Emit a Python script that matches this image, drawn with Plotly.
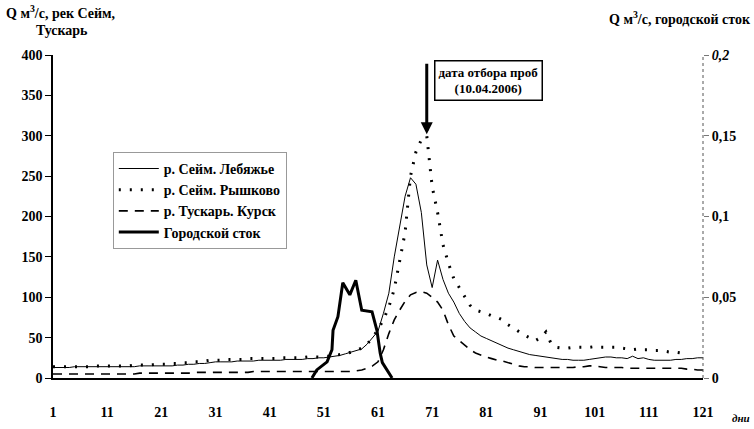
import plotly.graph_objects as go

days = list(range(1, 122))

# р. Сейм. Лебяжье (m3/s)
lebyazhye = [13, 13, 13, 13, 14, 14, 14, 14, 14, 14,
             14, 14, 14, 14, 14, 14, 15, 15, 15, 15,
             15, 15, 15, 16, 16, 17, 17, 18, 18, 19,
             20, 20, 20, 20, 21, 21, 21, 21, 22, 22,
             22, 22, 22, 23, 23, 23, 23, 24, 24, 25,
             25, 26, 27, 28, 30, 32, 34, 36, 42, 50,
             58, 80, 105, 150, 190, 225, 248, 240, 205, 140,
             112, 146, 122, 105, 94, 80, 70, 62, 57, 52,
             49, 46, 43, 40, 37, 35, 33, 31, 29, 28,
             27, 26, 25, 24, 23, 23, 22, 22, 22, 23,
             24, 25, 26, 26, 25, 25, 24, 27, 24, 25,
             23, 22, 22, 22, 22, 23, 23, 24, 24, 25, 25]

# р. Сейм. Рышково (m3/s)
ryshkovo = [14, 14, 14, 14, 14, 14, 14, 14, 15, 15,
            15, 15, 15, 15, 15, 16, 16, 16, 16, 17,
            17, 17, 18, 18, 19, 19, 20, 20, 21, 22,
            22, 22, 23, 23, 23, 23, 24, 24, 24, 24,
            24, 24, 25, 25, 25, 25, 25, 26, 26, 26,
            27, 27, 28, 29, 30, 32, 34, 37, 42, 50,
            60, 72, 88, 110, 145, 180, 250, 280, 295, 300,
            237, 205, 165, 142, 123, 112, 100, 90, 84, 82,
            80, 77, 75, 72, 66, 62, 57, 53, 50, 46,
            50, 57, 42, 38, 37, 37, 38, 38, 38, 38,
            39, 38, 38, 38, 38, 37, 36, 35, 36, 35,
            35, 34, 34, 33, 32, 32, 31, None, None, None, None]

# р. Тускарь. Курск (m3/s)
tuskar = [5, 5, 5, 5, 5, 5, 5, 5, 5, 5,
          5, 5, 5, 5, 5, 5, 6, 6, 6, 6,
          6, 6, 6, 6, 6, 6, 7, 7, 7, 7,
          7, 7, 7, 7, 7, 7, 7, 8, 8, 8,
          8, 8, 8, 8, 8, 8, 8, 8, 8, 8,
          8, 8, 8, 8, 8, 8, 9, 10, 12, 15,
          20, 35, 55, 72, 84, 95, 103, 106, 107, 105,
          100, 94, 84, 66, 52, 46, 40, 35, 31, 28,
          26, 24, 22, 21, 19, 17, 15, 14, 14, 13,
          13, 13, 13, 13, 13, 13, 13, 14, 14, 15,
          15, 14, 13, 13, 13, 13, 12, 12, 12, 12,
          12, 12, 12, 12, 12, 12, 12, 11, 11, 10, 10]

# Городской сток (m3/s, right axis)
city_days = [48.8, 49.7, 51.6, 52.5, 52.7, 53.6, 54.5, 55.8, 56.9, 58.0, 59.9, 60.8, 61.4, 61.8, 63.6]
city = [0, 0.005, 0.010, 0.0175, 0.0295, 0.038, 0.059, 0.0515, 0.0605, 0.042, 0.041, 0.0295, 0.0155, 0.0095, 0]

x_ticks = list(range(1, 122, 10))
y_ticks = [0, 50, 100, 150, 200, 250, 300, 350, 400]
y2_ticks = [0, 0.05, 0.1, 0.15, 0.2]
y2_labels = ["0", "0,05", "0,1", "0,15", "<i>0,2</i>"]

FONT = "Liberation Serif, Times New Roman, serif"

fig = go.Figure()
fig.add_trace(go.Scatter(x=days, y=lebyazhye, mode="lines", name="<b>р. Сейм. Лебяжье</b>",
                         line=dict(color="black", width=1)))
fig.add_trace(go.Scatter(x=days, y=ryshkovo, mode="lines", name="<b>р. Сейм. Рышково</b>",
                         line=dict(color="black", width=3, dash="2px,9px")))
fig.add_trace(go.Scatter(x=days, y=tuskar, mode="lines", name="<b>р. Тускарь. Курск</b>",
                         line=dict(color="black", width=1.6, dash="9px,7px")))
fig.add_trace(go.Scatter(x=city_days, y=city, mode="lines", name="<b>Городской сток</b>",
                         line=dict(color="black", width=3), yaxis="y2"))

fig.update_layout(
    width=754, height=429,
    margin=dict(l=53, r=51, t=55, b=51, autoexpand=False),
    paper_bgcolor="white", plot_bgcolor="white",
    font=dict(family=FONT, size=13, color="black"),
    showlegend=True,
    legend=dict(x=0.092, y=0.70, xanchor="left", yanchor="top",
                bgcolor="white", bordercolor="#999", borderwidth=1,
                font=dict(family=FONT, size=14), tracegroupgap=0,
                itemwidth=40),
    xaxis=dict(range=[1, 121], tickvals=x_ticks, ticktext=[f"<b>{v}</b>" for v in x_ticks],
               showgrid=False, zeroline=False, showline=True, linecolor="black", linewidth=1.5,
               ticks="", ticklabelstandoff=20, tickfont=dict(family=FONT, size=14)),
    yaxis=dict(range=[0, 400], tickvals=y_ticks, ticktext=[f"<b>{v}</b>" for v in y_ticks],
               showgrid=False, zeroline=False, showline=True, linecolor="black", linewidth=1.5,
               ticks="outside", ticklen=6, tickcolor="black", tickfont=dict(family=FONT, size=14)),
    yaxis2=dict(range=[0, 0.2], overlaying="y", side="right", tickvals=y2_ticks,
                ticktext=[f"<b>{t}</b>" for t in y2_labels],
                showgrid=False, zeroline=False, showline=False,
                ticks="outside", ticklen=5, tickcolor="#777", tickfont=dict(family=FONT, size=14)),
    shapes=[
        dict(type="line", xref="paper", yref="paper", x0=1, x1=1, y0=0, y1=1,
             line=dict(color="#555", width=1, dash="dot")),
    ],
    annotations=[
        dict(xref="paper", yref="paper", x=-0.076, y=1.133, xanchor="left", yanchor="middle",
             text="<b>Q м<sup>3</sup>/с, рек Сейм,</b>", showarrow=False, font=dict(size=14)),
        dict(xref="paper", yref="paper", x=-0.03, y=1.077, xanchor="left", yanchor="middle",
             text="<b>Тускарь</b>", showarrow=False, font=dict(size=14)),
        dict(xref="paper", yref="paper", x=1.077, y=1.115, xanchor="right", yanchor="middle",
             text="<b>Q м<sup>3</sup>/с, городской сток</b>", showarrow=False, font=dict(size=14)),
        dict(xref="paper", yref="paper", x=1.075, y=-0.124, xanchor="right", yanchor="middle",
             text="<b><i>дни</i></b>", showarrow=False, font=dict(size=11)),
        dict(x=70, y=302, xref="x", yref="y", ax=0, ay=-72, text="", showarrow=True,
             arrowhead=2, arrowsize=0.8, arrowwidth=3, arrowcolor="black"),
        dict(x=71.4, y=368, xref="x", yref="y", xanchor="left", yanchor="middle",
             text="<b>дата отбора проб</b><br><b>(10.04.2006)</b>", showarrow=False,
             bordercolor="black", borderwidth=1.5, borderpad=3, bgcolor="white",
             font=dict(size=13)),
    ],
)

fig.write_html("out.html", config={"displayModeBar": False},
               post_script="document.body.style.margin='0';")
